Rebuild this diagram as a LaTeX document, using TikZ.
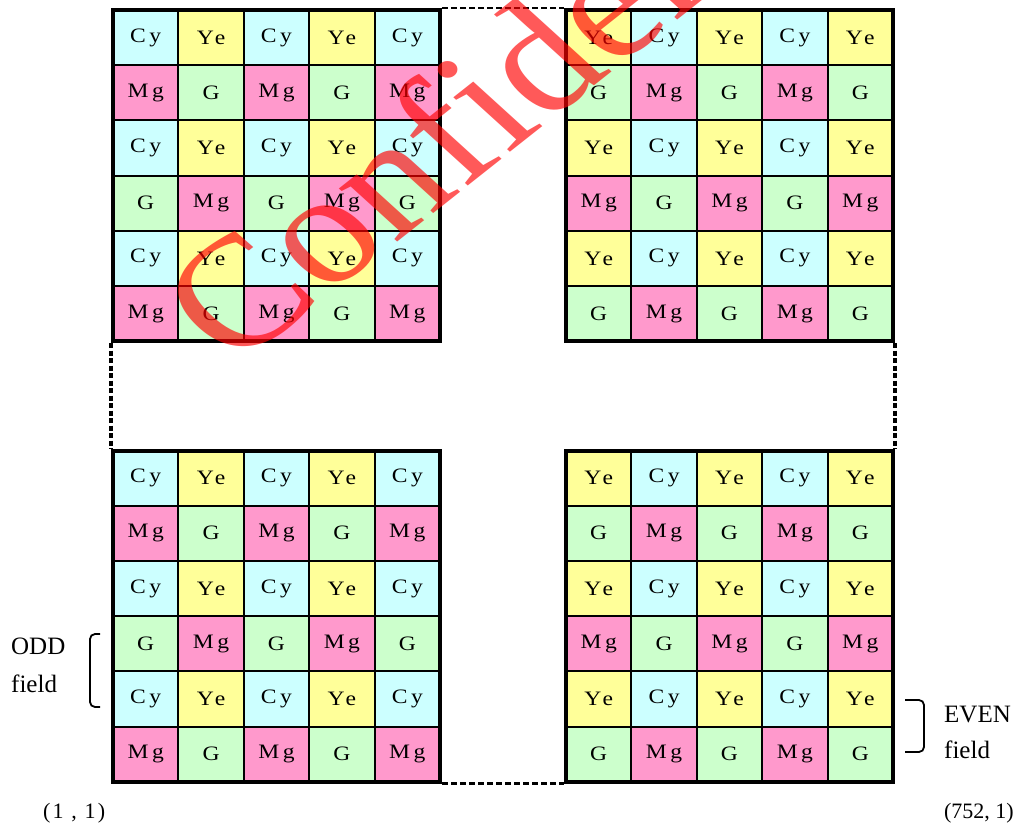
\documentclass[tikz,border=0pt]{standalone}
\usepackage{fontspec}
\usepackage{graphicx}
\setmainfont{Liberation Serif}
\newfontfamily\spacedfont[LetterSpace=15]{Liberation Serif}
\newfontfamily\tightfont[LetterSpace=10]{Liberation Serif}
\newcommand\wide[1]{\scalebox{1.15}[1]{#1}}
\usetikzlibrary{positioning}
\definecolor{colCy}{HTML}{CCFFFF}
\definecolor{colYe}{HTML}{FFFF99}
\definecolor{colMg}{HTML}{FF99CC}
\definecolor{colG}{HTML}{CCFFCC}

\begin{document}
\begin{tikzpicture}[x=1pt, y=-1pt]
\tikzset{
  cell/.style ={draw=black, line width=2pt, fill=col#1, minimum width=65.4pt,
                minimum height=55.2pt, inner sep=0pt, font=\spacedfont\fontsize{20.5}{24}\selectfont},
  frame/.style={draw=black, line width=4pt, minimum width=327pt, minimum height=331pt, inner sep=0pt},
  link/.style ={line width=2.5pt, dash pattern=on 6pt off 3pt},
  vlink/.style={line width=3.5pt, dash pattern=on 5pt off 2.5pt},
  brk/.style  ={line width=1.8pt, rounded corners=5pt},
  lbl/.style  ={align=left, inner sep=0pt, font=\fontsize{25}{38}\selectfont},
  corner/.style={inner sep=0pt, font=\fontsize{22}{26}\selectfont},
  wmark/.style={text=red, text opacity=0.65, inner sep=0pt, transform shape, rotate=43,
                font=\fontsize{158}{165}\selectfont}
}
\useasboundingbox (0,0) rectangle (1020,828);

% left half: odd lines start with Cy
\foreach \g/\gx/\gy in {tl/113/10, bl/113/450.5}{
  \foreach \row [count=\j] in {{Cy,Ye,Cy,Ye,Cy},{Mg,G,Mg,G,Mg},{Cy,Ye,Cy,Ye,Cy},
                               {G,Mg,G,Mg,G},{Cy,Ye,Cy,Ye,Cy},{Mg,G,Mg,G,Mg}}{
    \foreach \c [count=\i] in \row
      \node[cell=\c] (\g-\j-\i) at ({\gx+65.4*(\i-0.5)},{\gy+55.2*(\j-0.5)}) {\wide{\c}};
  }
}
% right half: odd lines start with Ye
\foreach \g/\gx/\gy in {tr/566/10, br/566/450.5}{
  \foreach \row [count=\j] in {{Ye,Cy,Ye,Cy,Ye},{G,Mg,G,Mg,G},{Ye,Cy,Ye,Cy,Ye},
                               {Mg,G,Mg,G,Mg},{Ye,Cy,Ye,Cy,Ye},{G,Mg,G,Mg,G}}{
    \foreach \c [count=\i] in \row
      \node[cell=\c] (\g-\j-\i) at ({\gx+65.4*(\i-0.5)},{\gy+55.2*(\j-0.5)}) {\wide{\c}};
  }
}

\node[frame] (tl) at (276.5,175.5) {};
\node[frame] (tr) at (729.5,175.5) {};
\node[frame] (bl) at (276.5,616) {};
\node[frame] (br) at (729.5,616) {};

\draw[link] (tl.north east) -- (tr.north west);
\draw[link] (bl.south east) -- (br.south west);
\draw[vlink] (tl.south west) -- (bl.north west);
\draw[vlink] (tr.south east) -- (br.north east);

% field brackets
\draw[brk] (100,634) -- (90,634) -- (90,707) -- (100,707);
\draw[brk] (905,700) -- (924,700) -- (924,752) -- (905,752);
\node[lbl, anchor=base west] (odd) at (11,692) {ODD\\field};
\node[lbl, anchor=base west, font=\fontsize{25}{36}\selectfont] (even) at (944,758) {EVEN\\field};

\node[corner, anchor=base west, font=\tightfont\fontsize{22}{26}\selectfont] (first) at (43,818) {(1 , 1)};
\node[corner, anchor=base east] (last) at (1014,818) {(752, 1)};

\begin{scope}
\clip (0,0) rectangle (1020,828);
\begin{scope}[xscale=1.18]
\node[wmark, anchor=base west] (conf) at (199,370) {Confidential};
\end{scope}
\end{scope}
\end{tikzpicture}
\end{document}
